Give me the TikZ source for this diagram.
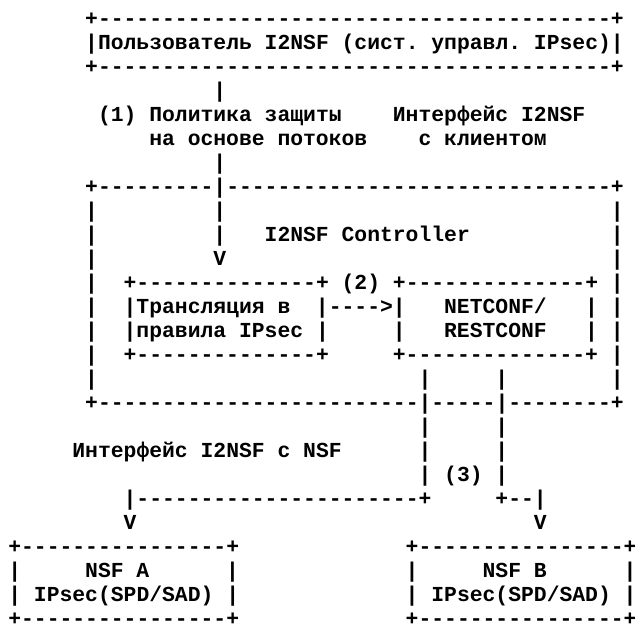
\documentclass[tikz,border=0pt]{standalone}
\usepackage{fontspec}
\setmonofont{Liberation Mono}
\newcommand\seg[4]{\node[t] (#1) at ({8.09+12.82*#2},{-25.0-24.0*(#3-1)}) {#4};}
\begin{document}
\begin{tikzpicture}[x=1pt,y=1pt,
  t/.style={inner sep=0pt,anchor=base west,text=black,
    font=\ttfamily\bfseries\fontsize{21.37}{24}\selectfont}]
\path[fill=white,use as bounding box] (0,0) rectangle (635,-627);
% top box: I2NSF user
\seg{ua}{6}{1}{+----------------------------------------+}
\seg{ub}{6}{2}{|Пользователь I2NSF (сист. управл. IPsec)|}
\seg{uc}{6}{3}{+----------------------------------------+}
\seg{v4}{16}{4}{|}
\seg{p1}{7}{5}{(1) Политика защиты}
\seg{i1}{30}{5}{Интерфейс I2NSF}
\seg{p2}{11}{6}{на основе потоков}
\seg{i2}{32}{6}{с клиентом}
\seg{v7}{16}{7}{|}
% controller box
\seg{ca}{6}{8}{+---------|------------------------------+}
\seg{c9a}{6}{9}{|}
\seg{c9b}{16}{9}{|}
\seg{c9c}{47}{9}{|}
\seg{c10a}{6}{10}{|}
\seg{c10b}{16}{10}{|}
\seg{ctl}{20}{10}{I2NSF Controller}
\seg{c10c}{47}{10}{|}
\seg{c11a}{6}{11}{|}
\seg{c11b}{16}{11}{V}
\seg{c11c}{47}{11}{|}
\seg{c12a}{6}{12}{|}
\seg{c12b}{9}{12}{+--------------+ (2) +--------------+ |}
\seg{c13a}{6}{13}{|}
\seg{c13b}{9}{13}{|Трансляция в}
\seg{c13c}{24}{13}{|---->|}
\seg{nc}{34}{13}{NETCONF/}
\seg{c13d}{45}{13}{| |}
\seg{c14a}{6}{14}{|}
\seg{c14b}{9}{14}{|правила IPsec |}
\seg{c14c}{30}{14}{|}
\seg{rc}{34}{14}{RESTCONF}
\seg{c14d}{45}{14}{| |}
\seg{c15a}{6}{15}{|}
\seg{c15b}{9}{15}{+--------------+}
\seg{c15c}{30}{15}{+--------------+ |}
\seg{c16a}{6}{16}{|}
\seg{c16b}{32}{16}{|}
\seg{c16c}{38}{16}{|}
\seg{c16d}{47}{16}{|}
\seg{cb}{6}{17}{+-------------------------|-----|--------+}
% NSF-facing interface
\seg{l18a}{32}{18}{|}
\seg{l18b}{38}{18}{|}
\seg{nfi}{5}{19}{Интерфейс I2NSF с NSF}
\seg{l19a}{32}{19}{|}
\seg{l19b}{38}{19}{|}
\seg{l20}{32}{20}{| (3) |}
\seg{l21a}{9}{21}{|----------------------+}
\seg{l21b}{38}{21}{+--|}
\seg{l22a}{9}{22}{V}
\seg{l22b}{41}{22}{V}
% NSF boxes
\seg{aa}{0}{23}{+----------------+}
\seg{ab}{0}{24}{|}
\seg{an}{6}{24}{NSF A}
\seg{ac}{17}{24}{|}
\seg{ad}{0}{25}{| IPsec(SPD/SAD) |}
\seg{ae}{0}{26}{+----------------+}
\seg{ba}{31}{23}{+----------------+}
\seg{bb}{31}{24}{|}
\seg{bn}{37}{24}{NSF B}
\seg{bc}{48}{24}{|}
\seg{bd}{31}{25}{| IPsec(SPD/SAD) |}
\seg{be}{31}{26}{+----------------+}
\end{tikzpicture}
\end{document}
